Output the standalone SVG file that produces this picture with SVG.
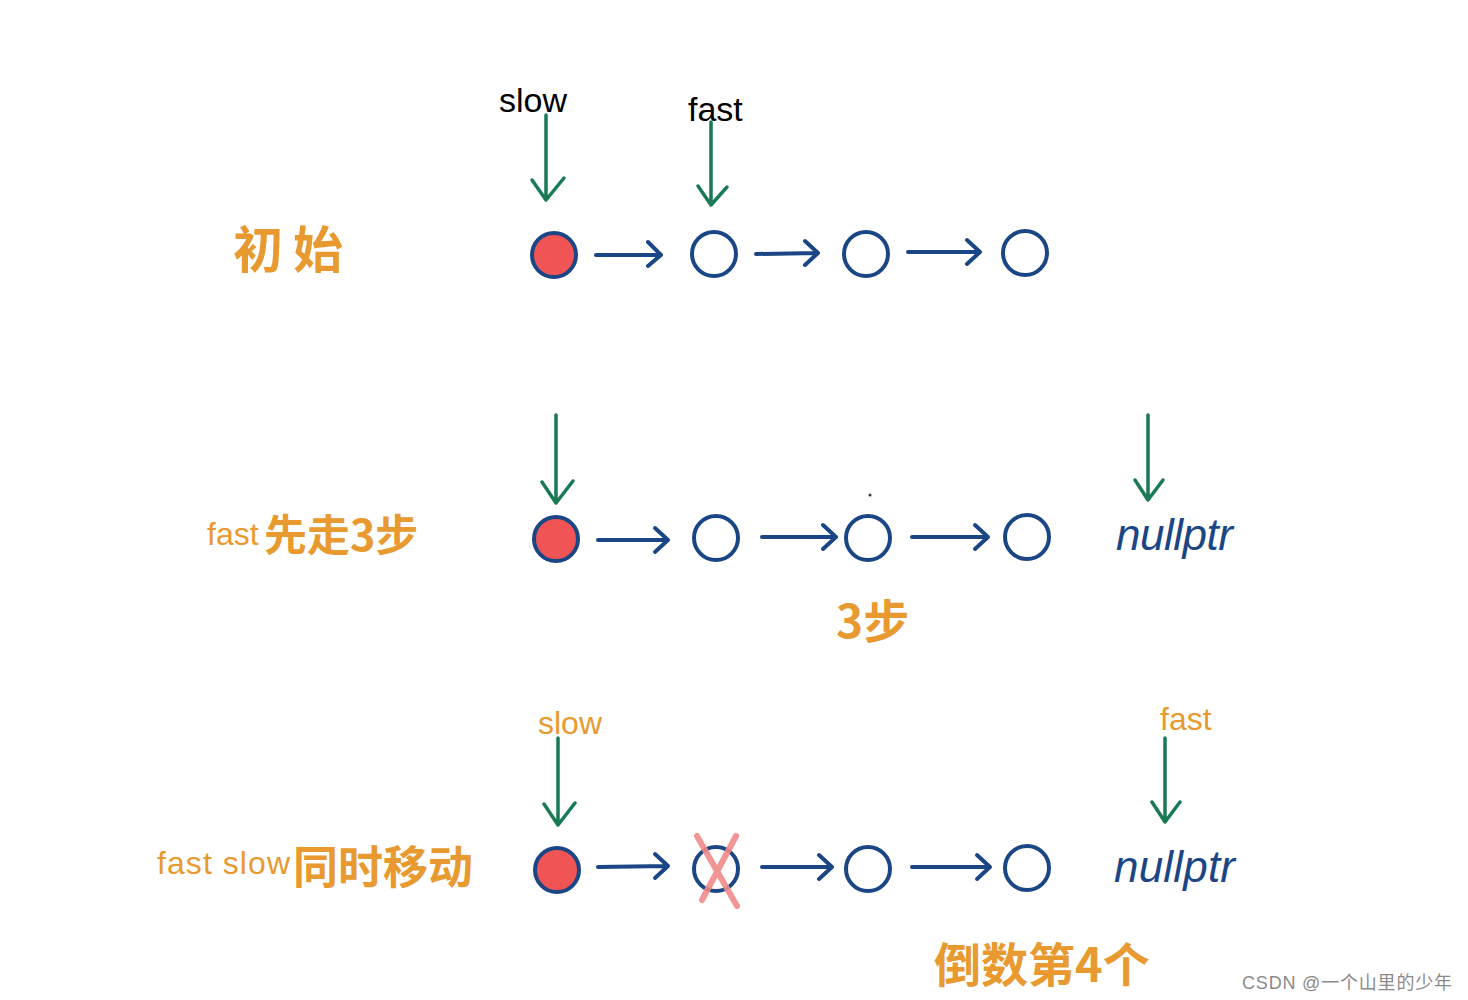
<svg xmlns="http://www.w3.org/2000/svg" width="1468" height="1000" viewBox="0 0 1468 1000">
<defs>
<style>
.node{fill:#fff;stroke:#1b4685;stroke-width:4}
.red{fill:#f05454;stroke:#1b4685;stroke-width:4}
.blue{stroke:#1b4685;stroke-width:4;fill:none;stroke-linecap:round;stroke-linejoin:round}
.green{stroke:#1a7a55;stroke-width:3.5;fill:none;stroke-linecap:round;stroke-linejoin:round}
.lbl{font-family:"Liberation Sans","Open Sans",sans-serif}
.cn{font-family:"Noto Sans CJK SC","Noto Sans",sans-serif;fill:#e89a30;font-weight:bold}
.or{fill:#e89a30}
.np{font-family:"Liberation Sans",sans-serif;fill:#1b4685;font-style:italic}
</style>
</defs>
<rect width="1468" height="1000" fill="#fff"/>
<g id="labels">
<text class="lbl" x="499" y="112" font-size="34" fill="#000">slow</text>
<text class="lbl" x="688" y="121" font-size="34" fill="#000">fast</text>
<text class="cn" x="233" y="268" font-size="50" letter-spacing="10">初始</text>
<text class="lbl or" x="207" y="545" font-size="32">fast</text>
<text class="cn" x="264" y="551" font-size="43">先走3步</text>
<text class="cn" x="836" y="638" font-size="46">3步</text>
<text class="lbl or" x="538" y="734" font-size="32">slow</text>
<text class="lbl or" x="1160" y="730" font-size="32">fast</text>
<text class="lbl or" x="157" y="874" font-size="32" textLength="133">fast slow</text>
<text class="cn" x="293" y="884" font-size="45">同时移动</text>
<text class="cn" x="934" y="982" font-size="47">倒数第4个</text>
<text class="np" x="1116" y="550" font-size="44" textLength="117">nullptr</text>
<text class="np" x="1114" y="882" font-size="44" textLength="121">nullptr</text>
<text x="1242" y="989" font-size="18" textLength="210" fill="#8a8a8a" font-family="'Liberation Sans','Noto Sans CJK SC',sans-serif">CSDN @一个山里的少年</text>
<circle cx="870" cy="495" r="1.5" fill="#333"/>
</g>
<g id="nodes">
<g id="r1n1"><circle class="red" cx="554" cy="255" r="22"/></g>
<g id="r1n2"><circle class="node" cx="714" cy="254" r="22"/></g>
<g id="r1n3"><circle class="node" cx="866" cy="254" r="22"/></g>
<g id="r1n4"><circle class="node" cx="1025" cy="253" r="22"/></g>
<g id="r2n1"><circle class="red" cx="556" cy="539" r="22"/></g>
<g id="r2n2"><circle class="node" cx="716" cy="538" r="22"/></g>
<g id="r2n3"><circle class="node" cx="868" cy="538" r="22"/></g>
<g id="r2n4"><circle class="node" cx="1027" cy="537" r="22"/></g>
<g id="r3n1"><circle class="red" cx="557" cy="870" r="22"/></g>
<g id="r3n2"><circle class="node" cx="716" cy="869" r="22"/>
<path d="M697 836 L737 906 M736 836 L702 900" stroke="#ef8a8a" stroke-width="6" stroke-linecap="round" fill="none" opacity="0.9"/></g>
<g id="r3n3"><circle class="node" cx="868" cy="869" r="22"/></g>
<g id="r3n4"><circle class="node" cx="1027" cy="868" r="22"/></g>
</g>
<g id="connectors">
<path class="blue" d="M596 255 L661 255 M648 242 L661 255 L648 266"/>
<path class="blue" d="M756 254 L818 253 M805 241 L818 253 L805 265"/>
<path class="blue" d="M908 252 L980 252 M967 240 L980 252 L967 264"/>
<path class="blue" d="M598 540 L668 540 M655 528 L668 540 L655 552"/>
<path class="blue" d="M762 537 L836 537 M823 525 L836 537 L823 549"/>
<path class="blue" d="M912 537 L988 537 M975 525 L988 537 L975 549"/>
<path class="blue" d="M598 867 L668 866 M655 854 L668 866 L655 878"/>
<path class="blue" d="M762 867 L832 867 M819 855 L832 867 L819 879"/>
<path class="blue" d="M912 867 L990 867 M977 855 L990 867 L977 879"/>
<path class="green" d="M546 115 L546 200 M532 180 L546 200 L564 178"/>
<path class="green" d="M711 122 L711 205 M698 186 L711 205 L727 187"/>
<path class="green" d="M556 415 L556 503 M542 482 L556 503 L573 481"/>
<path class="green" d="M1148 415 L1148 500 M1135 480 L1148 500 L1163 480"/>
<path class="green" d="M558 738 L558 825 M544 804 L558 825 L575 803"/>
<path class="green" d="M1165 738 L1165 822 M1152 802 L1165 822 L1180 802"/>
</g>
</svg>
